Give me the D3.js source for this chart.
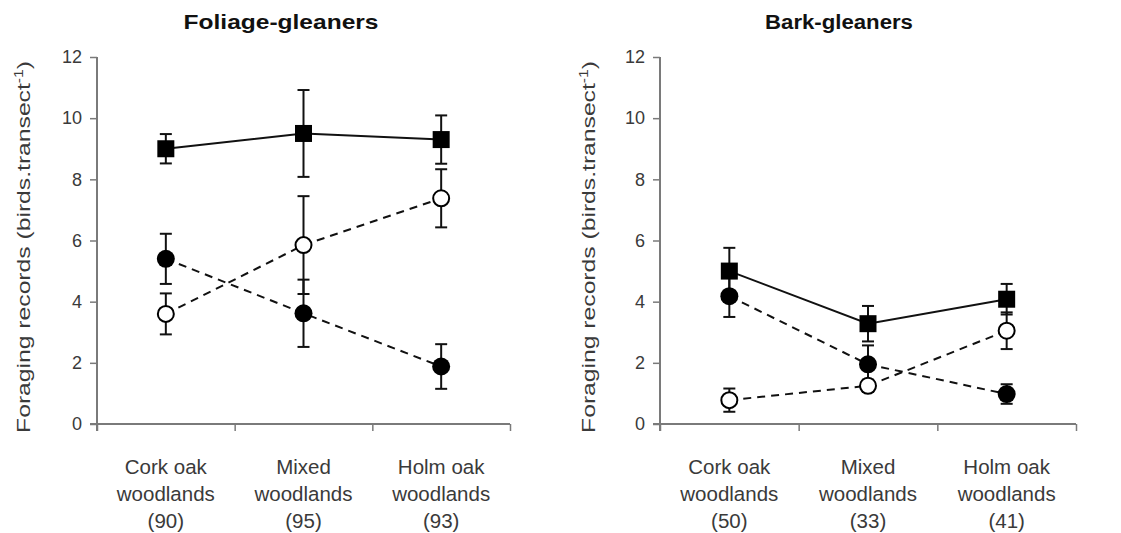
<!DOCTYPE html>
<html>
<head>
<meta charset="utf-8">
<script src="https://cdn.jsdelivr.net/npm/d3@7"></script>
<style>
  html, body { margin: 0; padding: 0; background: #fff; }
  svg { display: block; }
  text { font-family: "Liberation Sans", Arial, Helvetica, sans-serif; }
</style>
</head>
<body>
<svg id="chart" width="1121" height="533"></svg>
<script>
// Woodland types and number of records per panel
const habitats = ["Cork oak", "Mixed", "Holm oak"];
const foliageN = [90, 95, 93];
const barkN = [50, 33, 41];
const yTicks = [0, 2, 4, 6, 8, 10, 12];

// Foliage-gleaners: mean foraging records and standard errors
const foliageSquare = [9.0, 9.5, 9.3];
const foliageSquareSE = [0.48, 1.42, 0.79];
const foliageFilled = [5.4, 3.62, 1.88];
const foliageFilledSE = [0.82, 1.1, 0.73];
const foliageOpen = [3.6, 5.85, 7.38];
const foliageOpenSE = [0.67, 1.6, 0.95];

// Bark-gleaners
const barkSquare = [5.0, 3.28, 4.08];
const barkSquareSE = [0.76, 0.58, 0.5];
const barkFilled = [4.18, 1.95, 0.98];
const barkFilledSE = [0.68, 0.62, 0.32];
const barkOpen = [0.78, 1.25, 3.05];
const barkOpenSE = [0.38, 0.2, 0.6];

const svg = d3.select("#chart");

const panels = [
  {
    title: "Foliage-gleaners", n: foliageN, x0: 97, x1: 510, titleX: 281, titleW: 195,
    ylabelX: 23,
    series: [
      { v: foliageSquare, se: foliageSquareSE, shape: "square", dash: null },
      { v: foliageFilled, se: foliageFilledSE, shape: "filled", dash: "8,6" },
      { v: foliageOpen, se: foliageOpenSE, shape: "open", dash: "8,6" }
    ]
  },
  {
    title: "Bark-gleaners", n: barkN, x0: 660, x1: 1076, titleX: 839, titleW: 148,
    ylabelX: 588,
    series: [
      { v: barkSquare, se: barkSquareSE, shape: "square", dash: null },
      { v: barkFilled, se: barkFilledSE, shape: "filled", dash: "8,6" },
      { v: barkOpen, se: barkOpenSE, shape: "open", dash: "8,6" }
    ]
  }
];

const yTop = 57, yBottom = 424;
const axisColor = "#7a7a7a";
const textColor = "#3a3a3a";

// Stretch a text element along its baseline so that it spans the given width
function fitWidth(sel, width) {
  const w = sel.node().getComputedTextLength();
  sel.attr("transform", `scale(${width / w},1)`);
}

panels.forEach(p => {
  const g = svg.append("g");
  const y = d3.scaleLinear().domain([0, 12]).range([yBottom, yTop]);
  const xb = d3.scaleBand().domain(habitats).range([p.x0, p.x1]).padding(0);
  const xl = d3.scaleLinear().domain([0, 3]).range([p.x0, p.x1]);
  const cx = h => xb(h) + xb.bandwidth() / 2;

  // Title
  const tg = g.append("g").attr("transform", `translate(${p.titleX},29)`);
  const tt = tg.append("text")
    .attr("text-anchor", "middle")
    .attr("font-size", 20).attr("font-weight", "bold")
    .attr("fill", "#111")
    .text(p.title);
  fitWidth(tt, p.titleW);

  // Y axis
  const yAxis = g.append("g")
    .attr("transform", `translate(${p.x0},0)`)
    .call(d3.axisLeft(y).tickValues(yTicks).tickSize(7).tickPadding(8).tickFormat(d3.format("d")));
  yAxis.select(".domain").attr("stroke", axisColor).attr("stroke-width", 2)
    .attr("d", `M0,${yTop}V${yBottom + 7}`);
  yAxis.selectAll(".tick line").attr("stroke", axisColor).attr("stroke-width", 1.5);
  yAxis.selectAll(".tick text").attr("fill", textColor).attr("font-size", 18)
    .attr("font-family", "'Liberation Sans', Arial, sans-serif");

  // X axis with ticks at category boundaries
  const xAxis = g.append("g")
    .attr("transform", `translate(0,${yBottom})`)
    .call(d3.axisBottom(xl).tickValues([0, 1, 2, 3]).tickSize(7).tickFormat(""));
  xAxis.select(".domain").attr("stroke", axisColor).attr("stroke-width", 2)
    .attr("d", `M${p.x0 - 7},0H${p.x1}`);
  xAxis.selectAll(".tick line").attr("stroke", axisColor).attr("stroke-width", 1.5);

  // Category labels
  habitats.forEach((h, i) => {
    const lines = [h, "woodlands", `(${p.n[i]})`];
    const t = g.append("text")
      .attr("x", cx(h)).attr("y", 474)
      .attr("text-anchor", "middle")
      .attr("font-size", 20.5).attr("fill", textColor);
    lines.forEach((l, k) => {
      t.append("tspan").attr("x", cx(h)).attr("dy", k === 0 ? 0 : 27).text(l);
    });
  });

  // Y axis title
  const lg = g.append("g")
    .attr("transform", `translate(${p.ylabelX + 7},${(60 + 434) / 2}) rotate(-90)`);
  const yl = lg.append("text")
    .attr("text-anchor", "middle")
    .attr("font-size", 19).attr("fill", textColor);
  yl.append("tspan").text("Foraging records (birds.transect");
  yl.append("tspan").attr("baseline-shift", "super").attr("font-size", 12).text("-1");
  yl.append("tspan").text(")");
  fitWidth(yl, 372);

  // Error bars
  p.series.forEach(s => {
    const eb = g.append("g");
    habitats.forEach((h, i) => {
      const lo = y(s.v[i] - s.se[i]), hi = y(s.v[i] + s.se[i]);
      eb.append("line").attr("x1", cx(h)).attr("x2", cx(h)).attr("y1", lo).attr("y2", hi)
        .attr("stroke", "#111").attr("stroke-width", 2);
      [lo, hi].forEach(yy => eb.append("line")
        .attr("x1", cx(h) - 6).attr("x2", cx(h) + 6).attr("y1", yy).attr("y2", yy)
        .attr("stroke", "#111").attr("stroke-width", 2));
    });
  });

  // Connecting lines
  const line = d3.line().x((d, i) => cx(habitats[i])).y(d => y(d));
  p.series.forEach(s => {
    g.append("path").datum(s.v)
      .attr("d", line)
      .attr("fill", "none").attr("stroke", "#111").attr("stroke-width", 2)
      .attr("stroke-dasharray", s.dash);
  });

  // Markers
  p.series.forEach(s => {
    habitats.forEach((h, i) => {
      const px = cx(h), py = y(s.v[i]);
      if (s.shape === "square") {
        g.append("rect").attr("x", px - 8.5).attr("y", py - 8.5)
          .attr("width", 17).attr("height", 17).attr("fill", "#000");
      } else if (s.shape === "filled") {
        g.append("circle").attr("cx", px).attr("cy", py).attr("r", 9).attr("fill", "#000");
      } else {
        g.append("circle").attr("cx", px).attr("cy", py).attr("r", 8)
          .attr("fill", "#fff").attr("stroke", "#000").attr("stroke-width", 2);
      }
    });
  });
});
</script>
</body>
</html>
